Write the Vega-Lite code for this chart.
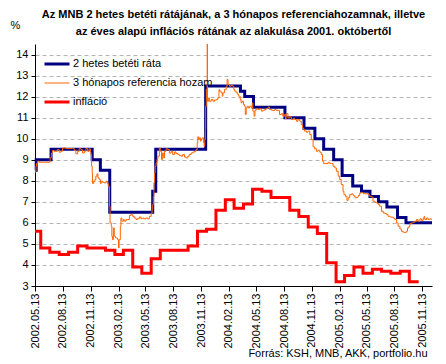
{
 "$schema": "https://vega.github.io/schema/vega-lite/v6.json",
 "width": 397, "height": 242,
 "autosize": {"type": "none"},
 "padding": {"left": 35, "top": 44, "right": 14, "bottom": 78},
 "background": "white",
 "config": {"font": "Liberation Sans", "view": {"stroke": null}},
 "title": {"text": ["Az MNB 2 hetes betéti rátájának, a 3 hónapos referenciahozamnak, illetve", "az éves alapú inflációs rátának az alakulása 2001. októbertől"], "fontSize": 11, "fontWeight": "bold", "anchor": "middle", "frame": "group", "offset": -18, "lineHeight": 17, "color": "black"},
 "data": {"values": [
  {"d":"2002-05-13","s":"2 hetes betéti ráta","v":8.5},
  {"d":"2002-05-17","s":"2 hetes betéti ráta","v":9.0},
  {"d":"2002-07-05","s":"2 hetes betéti ráta","v":9.5},
  {"d":"2002-11-18","s":"2 hetes betéti ráta","v":9.0},
  {"d":"2002-12-15","s":"2 hetes betéti ráta","v":8.5},
  {"d":"2003-01-15","s":"2 hetes betéti ráta","v":6.5},
  {"d":"2003-06-06","s":"2 hetes betéti ráta","v":7.5},
  {"d":"2003-06-16","s":"2 hetes betéti ráta","v":9.5},
  {"d":"2003-11-28","s":"2 hetes betéti ráta","v":12.5},
  {"d":"2004-03-22","s":"2 hetes betéti ráta","v":12.25},
  {"d":"2004-04-05","s":"2 hetes betéti ráta","v":12.0},
  {"d":"2004-05-04","s":"2 hetes betéti ráta","v":11.5},
  {"d":"2004-08-16","s":"2 hetes betéti ráta","v":11.0},
  {"d":"2004-10-18","s":"2 hetes betéti ráta","v":10.5},
  {"d":"2004-11-23","s":"2 hetes betéti ráta","v":10.0},
  {"d":"2004-12-22","s":"2 hetes betéti ráta","v":9.5},
  {"d":"2005-01-24","s":"2 hetes betéti ráta","v":9.0},
  {"d":"2005-02-21","s":"2 hetes betéti ráta","v":8.25},
  {"d":"2005-03-28","s":"2 hetes betéti ráta","v":7.75},
  {"d":"2005-04-26","s":"2 hetes betéti ráta","v":7.5},
  {"d":"2005-05-24","s":"2 hetes betéti ráta","v":7.25},
  {"d":"2005-06-21","s":"2 hetes betéti ráta","v":7.0},
  {"d":"2005-07-19","s":"2 hetes betéti ráta","v":6.75},
  {"d":"2005-08-23","s":"2 hetes betéti ráta","v":6.25},
  {"d":"2005-09-20","s":"2 hetes betéti ráta","v":6.0},
  {"d":"2005-12-15","s":"2 hetes betéti ráta","v":6.0},
  {"d":"2002-05-13","s":"3 hónapos referencia hozam","v":8.4},
  {"d":"2002-05-14","s":"3 hónapos referencia hozam","v":8.45},
  {"d":"2002-05-16","s":"3 hónapos referencia hozam","v":8.69},
  {"d":"2002-05-18","s":"3 hónapos referencia hozam","v":8.82},
  {"d":"2002-05-22","s":"3 hónapos referencia hozam","v":8.93},
  {"d":"2002-05-27","s":"3 hónapos referencia hozam","v":8.88},
  {"d":"2002-06-13","s":"3 hónapos referencia hozam","v":8.88},
  {"d":"2002-06-29","s":"3 hónapos referencia hozam","v":8.88},
  {"d":"2002-07-02","s":"3 hónapos referencia hozam","v":9.09},
  {"d":"2002-07-06","s":"3 hónapos referencia hozam","v":9.32},
  {"d":"2002-07-10","s":"3 hónapos referencia hozam","v":9.44},
  {"d":"2002-07-15","s":"3 hónapos referencia hozam","v":9.40},
  {"d":"2002-07-26","s":"3 hónapos referencia hozam","v":9.48},
  {"d":"2002-08-01","s":"3 hónapos referencia hozam","v":9.36},
  {"d":"2002-08-07","s":"3 hónapos referencia hozam","v":9.40},
  {"d":"2002-08-12","s":"3 hónapos referencia hozam","v":9.56},
  {"d":"2002-08-23","s":"3 hónapos referencia hozam","v":9.53},
  {"d":"2002-09-14","s":"3 hónapos referencia hozam","v":9.53},
  {"d":"2002-09-20","s":"3 hónapos referencia hozam","v":9.44},
  {"d":"2002-09-25","s":"3 hónapos referencia hozam","v":9.28},
  {"d":"2002-10-01","s":"3 hónapos referencia hozam","v":9.40},
  {"d":"2002-10-06","s":"3 hónapos referencia hozam","v":9.53},
  {"d":"2002-10-12","s":"3 hónapos referencia hozam","v":9.48},
  {"d":"2002-10-17","s":"3 hónapos referencia hozam","v":9.32},
  {"d":"2002-10-23","s":"3 hónapos referencia hozam","v":9.40},
  {"d":"2002-10-28","s":"3 hónapos referencia hozam","v":9.53},
  {"d":"2002-11-03","s":"3 hónapos referencia hozam","v":9.40},
  {"d":"2002-11-08","s":"3 hónapos referencia hozam","v":9.52},
  {"d":"2002-11-12","s":"3 hónapos referencia hozam","v":9.36},
  {"d":"2002-11-14","s":"3 hónapos referencia hozam","v":9.25},
  {"d":"2002-11-16","s":"3 hónapos referencia hozam","v":8.69},
  {"d":"2002-11-18","s":"3 hónapos referencia hozam","v":8.37},
  {"d":"2002-11-19","s":"3 hónapos referencia hozam","v":7.87},
  {"d":"2002-11-23","s":"3 hónapos referencia hozam","v":7.98},
  {"d":"2002-11-27","s":"3 hónapos referencia hozam","v":8.06},
  {"d":"2002-11-30","s":"3 hónapos referencia hozam","v":8.22},
  {"d":"2002-12-04","s":"3 hónapos referencia hozam","v":8.33},
  {"d":"2002-12-07","s":"3 hónapos referencia hozam","v":8.14},
  {"d":"2002-12-11","s":"3 hónapos referencia hozam","v":8.06},
  {"d":"2002-12-15","s":"3 hónapos referencia hozam","v":7.87},
  {"d":"2002-12-18","s":"3 hónapos referencia hozam","v":7.98},
  {"d":"2002-12-22","s":"3 hónapos referencia hozam","v":7.93},
  {"d":"2002-12-28","s":"3 hónapos referencia hozam","v":7.90},
  {"d":"2003-01-03","s":"3 hónapos referencia hozam","v":7.98},
  {"d":"2003-01-08","s":"3 hónapos referencia hozam","v":7.87},
  {"d":"2003-01-10","s":"3 hónapos referencia hozam","v":7.74},
  {"d":"2003-01-14","s":"3 hónapos referencia hozam","v":6.79},
  {"d":"2003-01-16","s":"3 hónapos referencia hozam","v":6.00},
  {"d":"2003-01-20","s":"3 hónapos referencia hozam","v":5.84},
  {"d":"2003-01-22","s":"3 hónapos referencia hozam","v":5.36},
  {"d":"2003-01-24","s":"3 hónapos referencia hozam","v":5.20},
  {"d":"2003-01-27","s":"3 hónapos referencia hozam","v":5.76},
  {"d":"2003-01-30","s":"3 hónapos referencia hozam","v":5.36},
  {"d":"2003-02-03","s":"3 hónapos referencia hozam","v":5.28},
  {"d":"2003-02-07","s":"3 hónapos referencia hozam","v":5.28},
  {"d":"2003-02-10","s":"3 hónapos referencia hozam","v":5.20},
  {"d":"2003-02-13","s":"3 hónapos referencia hozam","v":4.81},
  {"d":"2003-02-15","s":"3 hónapos referencia hozam","v":5.20},
  {"d":"2003-02-19","s":"3 hónapos referencia hozam","v":5.84},
  {"d":"2003-02-21","s":"3 hónapos referencia hozam","v":6.23},
  {"d":"2003-02-24","s":"3 hónapos referencia hozam","v":6.08},
  {"d":"2003-03-01","s":"3 hónapos referencia hozam","v":6.16},
  {"d":"2003-03-04","s":"3 hónapos referencia hozam","v":6.08},
  {"d":"2003-03-10","s":"3 hónapos referencia hozam","v":6.16},
  {"d":"2003-03-15","s":"3 hónapos referencia hozam","v":6.16},
  {"d":"2003-03-21","s":"3 hónapos referencia hozam","v":6.35},
  {"d":"2003-03-26","s":"3 hónapos referencia hozam","v":6.39},
  {"d":"2003-04-01","s":"3 hónapos referencia hozam","v":6.31},
  {"d":"2003-04-06","s":"3 hónapos referencia hozam","v":6.23},
  {"d":"2003-04-12","s":"3 hónapos referencia hozam","v":6.16},
  {"d":"2003-04-17","s":"3 hónapos referencia hozam","v":6.20},
  {"d":"2003-04-23","s":"3 hónapos referencia hozam","v":6.28},
  {"d":"2003-04-28","s":"3 hónapos referencia hozam","v":6.20},
  {"d":"2003-05-04","s":"3 hónapos referencia hozam","v":6.23},
  {"d":"2003-05-09","s":"3 hónapos referencia hozam","v":6.19},
  {"d":"2003-05-15","s":"3 hónapos referencia hozam","v":6.23},
  {"d":"2003-05-20","s":"3 hónapos referencia hozam","v":6.19},
  {"d":"2003-05-26","s":"3 hónapos referencia hozam","v":6.31},
  {"d":"2003-06-01","s":"3 hónapos referencia hozam","v":6.47},
  {"d":"2003-06-04","s":"3 hónapos referencia hozam","v":6.63},
  {"d":"2003-06-06","s":"3 hónapos referencia hozam","v":6.87},
  {"d":"2003-06-08","s":"3 hónapos referencia hozam","v":7.26},
  {"d":"2003-06-10","s":"3 hónapos referencia hozam","v":7.90},
  {"d":"2003-06-12","s":"3 hónapos referencia hozam","v":8.37},
  {"d":"2003-06-14","s":"3 hónapos referencia hozam","v":8.69},
  {"d":"2003-06-17","s":"3 hónapos referencia hozam","v":8.85},
  {"d":"2003-06-20","s":"3 hónapos referencia hozam","v":9.01},
  {"d":"2003-06-23","s":"3 hónapos referencia hozam","v":9.17},
  {"d":"2003-06-28","s":"3 hónapos referencia hozam","v":9.56},
  {"d":"2003-07-01","s":"3 hónapos referencia hozam","v":9.40},
  {"d":"2003-07-05","s":"3 hónapos referencia hozam","v":9.01},
  {"d":"2003-07-08","s":"3 hónapos referencia hozam","v":9.32},
  {"d":"2003-07-11","s":"3 hónapos referencia hozam","v":9.09},
  {"d":"2003-07-15","s":"3 hónapos referencia hozam","v":9.40},
  {"d":"2003-07-20","s":"3 hónapos referencia hozam","v":9.52},
  {"d":"2003-07-26","s":"3 hónapos referencia hozam","v":9.48},
  {"d":"2003-07-31","s":"3 hónapos referencia hozam","v":9.32},
  {"d":"2003-08-06","s":"3 hónapos referencia hozam","v":9.40},
  {"d":"2003-08-11","s":"3 hónapos referencia hozam","v":9.25},
  {"d":"2003-08-17","s":"3 hónapos referencia hozam","v":9.37},
  {"d":"2003-08-22","s":"3 hónapos referencia hozam","v":9.29},
  {"d":"2003-08-28","s":"3 hónapos referencia hozam","v":9.25},
  {"d":"2003-09-02","s":"3 hónapos referencia hozam","v":9.20},
  {"d":"2003-09-08","s":"3 hónapos referencia hozam","v":9.17},
  {"d":"2003-09-13","s":"3 hónapos referencia hozam","v":9.25},
  {"d":"2003-09-19","s":"3 hónapos referencia hozam","v":9.13},
  {"d":"2003-09-24","s":"3 hónapos referencia hozam","v":9.09},
  {"d":"2003-09-30","s":"3 hónapos referencia hozam","v":9.17},
  {"d":"2003-10-05","s":"3 hónapos referencia hozam","v":9.25},
  {"d":"2003-10-11","s":"3 hónapos referencia hozam","v":9.32},
  {"d":"2003-10-16","s":"3 hónapos referencia hozam","v":9.36},
  {"d":"2003-10-22","s":"3 hónapos referencia hozam","v":9.40},
  {"d":"2003-10-27","s":"3 hónapos referencia hozam","v":9.48},
  {"d":"2003-10-31","s":"3 hónapos referencia hozam","v":9.80},
  {"d":"2003-11-02","s":"3 hónapos referencia hozam","v":10.09},
  {"d":"2003-11-05","s":"3 hónapos referencia hozam","v":9.96},
  {"d":"2003-11-07","s":"3 hónapos referencia hozam","v":10.04},
  {"d":"2003-11-11","s":"3 hónapos referencia hozam","v":9.88},
  {"d":"2003-11-13","s":"3 hónapos referencia hozam","v":9.96},
  {"d":"2003-11-16","s":"3 hónapos referencia hozam","v":10.04},
  {"d":"2003-11-21","s":"3 hónapos referencia hozam","v":9.80},
  {"d":"2003-11-23","s":"3 hónapos referencia hozam","v":9.64},
  {"d":"2003-11-25","s":"3 hónapos referencia hozam","v":9.96},
  {"d":"2003-11-27","s":"3 hónapos referencia hozam","v":10.43},
  {"d":"2003-11-28","s":"3 hónapos referencia hozam","v":11.54},
  {"d":"2003-11-30","s":"3 hónapos referencia hozam","v":12.34},
  {"d":"2003-12-02","s":"3 hónapos referencia hozam","v":11.86},
  {"d":"2003-12-03","s":"3 hónapos referencia hozam","v":14.5},
  {"d":"2003-12-04","s":"3 hónapos referencia hozam","v":11.78},
  {"d":"2003-12-08","s":"3 hónapos referencia hozam","v":11.94},
  {"d":"2003-12-10","s":"3 hónapos referencia hozam","v":11.78},
  {"d":"2003-12-16","s":"3 hónapos referencia hozam","v":11.86},
  {"d":"2003-12-22","s":"3 hónapos referencia hozam","v":11.78},
  {"d":"2003-12-27","s":"3 hónapos referencia hozam","v":11.83},
  {"d":"2004-01-02","s":"3 hónapos referencia hozam","v":11.86},
  {"d":"2004-01-07","s":"3 hónapos referencia hozam","v":11.94},
  {"d":"2004-01-11","s":"3 hónapos referencia hozam","v":12.34},
  {"d":"2004-01-13","s":"3 hónapos referencia hozam","v":12.26},
  {"d":"2004-01-18","s":"3 hónapos referencia hozam","v":12.18},
  {"d":"2004-01-22","s":"3 hónapos referencia hozam","v":12.02},
  {"d":"2004-01-24","s":"3 hónapos referencia hozam","v":12.18},
  {"d":"2004-01-29","s":"3 hónapos referencia hozam","v":12.34},
  {"d":"2004-02-04","s":"3 hónapos referencia hozam","v":12.49},
  {"d":"2004-02-07","s":"3 hónapos referencia hozam","v":12.81},
  {"d":"2004-02-10","s":"3 hónapos referencia hozam","v":12.57},
  {"d":"2004-02-15","s":"3 hónapos referencia hozam","v":12.49},
  {"d":"2004-02-20","s":"3 hónapos referencia hozam","v":12.53},
  {"d":"2004-02-26","s":"3 hónapos referencia hozam","v":12.49},
  {"d":"2004-02-29","s":"3 hónapos referencia hozam","v":12.34},
  {"d":"2004-03-03","s":"3 hónapos referencia hozam","v":12.26},
  {"d":"2004-03-08","s":"3 hónapos referencia hozam","v":12.18},
  {"d":"2004-03-13","s":"3 hónapos referencia hozam","v":12.10},
  {"d":"2004-03-16","s":"3 hónapos referencia hozam","v":12.02},
  {"d":"2004-03-21","s":"3 hónapos referencia hozam","v":11.86},
  {"d":"2004-03-24","s":"3 hónapos referencia hozam","v":11.70},
  {"d":"2004-03-27","s":"3 hónapos referencia hozam","v":11.78},
  {"d":"2004-04-01","s":"3 hónapos referencia hozam","v":11.62},
  {"d":"2004-04-05","s":"3 hónapos referencia hozam","v":11.54},
  {"d":"2004-04-07","s":"3 hónapos referencia hozam","v":11.15},
  {"d":"2004-04-10","s":"3 hónapos referencia hozam","v":11.46},
  {"d":"2004-04-13","s":"3 hónapos referencia hozam","v":11.54},
  {"d":"2004-04-17","s":"3 hónapos referencia hozam","v":11.46},
  {"d":"2004-04-21","s":"3 hónapos referencia hozam","v":11.54},
  {"d":"2004-04-27","s":"3 hónapos referencia hozam","v":11.46},
  {"d":"2004-04-30","s":"3 hónapos referencia hozam","v":11.70},
  {"d":"2004-05-02","s":"3 hónapos referencia hozam","v":11.31},
  {"d":"2004-05-06","s":"3 hónapos referencia hozam","v":11.07},
  {"d":"2004-05-09","s":"3 hónapos referencia hozam","v":11.35},
  {"d":"2004-05-13","s":"3 hónapos referencia hozam","v":11.42},
  {"d":"2004-05-19","s":"3 hónapos referencia hozam","v":11.39},
  {"d":"2004-05-24","s":"3 hónapos referencia hozam","v":11.42},
  {"d":"2004-05-30","s":"3 hónapos referencia hozam","v":11.31},
  {"d":"2004-06-04","s":"3 hónapos referencia hozam","v":11.35},
  {"d":"2004-06-10","s":"3 hónapos referencia hozam","v":11.39},
  {"d":"2004-06-15","s":"3 hónapos referencia hozam","v":11.43},
  {"d":"2004-06-21","s":"3 hónapos referencia hozam","v":11.50},
  {"d":"2004-06-26","s":"3 hónapos referencia hozam","v":11.39},
  {"d":"2004-07-02","s":"3 hónapos referencia hozam","v":11.35},
  {"d":"2004-07-07","s":"3 hónapos referencia hozam","v":11.34},
  {"d":"2004-07-13","s":"3 hónapos referencia hozam","v":11.39},
  {"d":"2004-07-18","s":"3 hónapos referencia hozam","v":11.35},
  {"d":"2004-07-24","s":"3 hónapos referencia hozam","v":11.34},
  {"d":"2004-07-29","s":"3 hónapos referencia hozam","v":11.15},
  {"d":"2004-08-04","s":"3 hónapos referencia hozam","v":11.19},
  {"d":"2004-08-09","s":"3 hónapos referencia hozam","v":11.07},
  {"d":"2004-08-15","s":"3 hónapos referencia hozam","v":11.15},
  {"d":"2004-08-18","s":"3 hónapos referencia hozam","v":10.94},
  {"d":"2004-08-20","s":"3 hónapos referencia hozam","v":11.19},
  {"d":"2004-08-26","s":"3 hónapos referencia hozam","v":10.99},
  {"d":"2004-09-01","s":"3 hónapos referencia hozam","v":11.04},
  {"d":"2004-09-06","s":"3 hónapos referencia hozam","v":10.91},
  {"d":"2004-09-12","s":"3 hónapos referencia hozam","v":10.97},
  {"d":"2004-09-17","s":"3 hónapos referencia hozam","v":10.91},
  {"d":"2004-09-23","s":"3 hónapos referencia hozam","v":10.83},
  {"d":"2004-09-28","s":"3 hónapos referencia hozam","v":10.91},
  {"d":"2004-10-04","s":"3 hónapos referencia hozam","v":10.83},
  {"d":"2004-10-09","s":"3 hónapos referencia hozam","v":10.67},
  {"d":"2004-10-13","s":"3 hónapos referencia hozam","v":10.51},
  {"d":"2004-10-17","s":"3 hónapos referencia hozam","v":10.43},
  {"d":"2004-10-20","s":"3 hónapos referencia hozam","v":10.36},
  {"d":"2004-10-26","s":"3 hónapos referencia hozam","v":10.31},
  {"d":"2004-10-31","s":"3 hónapos referencia hozam","v":10.36},
  {"d":"2004-11-06","s":"3 hónapos referencia hozam","v":10.20},
  {"d":"2004-11-11","s":"3 hónapos referencia hozam","v":9.96},
  {"d":"2004-11-17","s":"3 hónapos referencia hozam","v":9.61},
  {"d":"2004-11-22","s":"3 hónapos referencia hozam","v":9.52},
  {"d":"2004-11-28","s":"3 hónapos referencia hozam","v":9.40},
  {"d":"2004-12-03","s":"3 hónapos referencia hozam","v":9.45},
  {"d":"2004-12-09","s":"3 hónapos referencia hozam","v":9.36},
  {"d":"2004-12-14","s":"3 hónapos referencia hozam","v":9.25},
  {"d":"2004-12-18","s":"3 hónapos referencia hozam","v":8.93},
  {"d":"2004-12-22","s":"3 hónapos referencia hozam","v":8.82},
  {"d":"2004-12-29","s":"3 hónapos referencia hozam","v":8.82},
  {"d":"2005-01-06","s":"3 hónapos referencia hozam","v":8.88},
  {"d":"2005-01-11","s":"3 hónapos referencia hozam","v":8.82},
  {"d":"2005-01-17","s":"3 hónapos referencia hozam","v":8.82},
  {"d":"2005-01-22","s":"3 hónapos referencia hozam","v":8.69},
  {"d":"2005-01-28","s":"3 hónapos referencia hozam","v":8.61},
  {"d":"2005-02-02","s":"3 hónapos referencia hozam","v":8.45},
  {"d":"2005-02-08","s":"3 hónapos referencia hozam","v":8.22},
  {"d":"2005-02-13","s":"3 hónapos referencia hozam","v":8.06},
  {"d":"2005-02-18","s":"3 hónapos referencia hozam","v":7.82},
  {"d":"2005-02-24","s":"3 hónapos referencia hozam","v":7.50},
  {"d":"2005-02-27","s":"3 hónapos referencia hozam","v":7.34},
  {"d":"2005-03-04","s":"3 hónapos referencia hozam","v":7.26},
  {"d":"2005-03-09","s":"3 hónapos referencia hozam","v":7.07},
  {"d":"2005-03-13","s":"3 hónapos referencia hozam","v":7.19},
  {"d":"2005-03-18","s":"3 hónapos referencia hozam","v":7.34},
  {"d":"2005-03-24","s":"3 hónapos referencia hozam","v":7.38},
  {"d":"2005-03-29","s":"3 hónapos referencia hozam","v":7.31},
  {"d":"2005-04-02","s":"3 hónapos referencia hozam","v":7.26},
  {"d":"2005-04-05","s":"3 hónapos referencia hozam","v":7.19},
  {"d":"2005-04-09","s":"3 hónapos referencia hozam","v":7.22},
  {"d":"2005-04-15","s":"3 hónapos referencia hozam","v":7.30},
  {"d":"2005-04-20","s":"3 hónapos referencia hozam","v":7.42},
  {"d":"2005-04-26","s":"3 hónapos referencia hozam","v":7.45},
  {"d":"2005-05-01","s":"3 hónapos referencia hozam","v":7.39},
  {"d":"2005-05-07","s":"3 hónapos referencia hozam","v":7.38},
  {"d":"2005-05-12","s":"3 hónapos referencia hozam","v":7.39},
  {"d":"2005-05-18","s":"3 hónapos referencia hozam","v":7.34},
  {"d":"2005-05-23","s":"3 hónapos referencia hozam","v":7.26},
  {"d":"2005-05-29","s":"3 hónapos referencia hozam","v":7.23},
  {"d":"2005-06-03","s":"3 hónapos referencia hozam","v":7.03},
  {"d":"2005-06-09","s":"3 hónapos referencia hozam","v":6.98},
  {"d":"2005-06-14","s":"3 hónapos referencia hozam","v":6.95},
  {"d":"2005-06-20","s":"3 hónapos referencia hozam","v":6.87},
  {"d":"2005-06-25","s":"3 hónapos referencia hozam","v":6.79},
  {"d":"2005-07-01","s":"3 hónapos referencia hozam","v":6.55},
  {"d":"2005-07-07","s":"3 hónapos referencia hozam","v":6.47},
  {"d":"2005-07-12","s":"3 hónapos referencia hozam","v":6.44},
  {"d":"2005-07-18","s":"3 hónapos referencia hozam","v":6.39},
  {"d":"2005-07-23","s":"3 hónapos referencia hozam","v":6.31},
  {"d":"2005-07-29","s":"3 hónapos referencia hozam","v":6.28},
  {"d":"2005-08-03","s":"3 hónapos referencia hozam","v":6.27},
  {"d":"2005-08-09","s":"3 hónapos referencia hozam","v":6.23},
  {"d":"2005-08-14","s":"3 hónapos referencia hozam","v":6.16},
  {"d":"2005-08-20","s":"3 hónapos referencia hozam","v":6.00},
  {"d":"2005-08-25","s":"3 hónapos referencia hozam","v":5.84},
  {"d":"2005-08-31","s":"3 hónapos referencia hozam","v":5.71},
  {"d":"2005-09-05","s":"3 hónapos referencia hozam","v":5.60},
  {"d":"2005-09-11","s":"3 hónapos referencia hozam","v":5.55},
  {"d":"2005-09-16","s":"3 hónapos referencia hozam","v":5.55},
  {"d":"2005-09-22","s":"3 hónapos referencia hozam","v":5.60},
  {"d":"2005-09-25","s":"3 hónapos referencia hozam","v":5.76},
  {"d":"2005-09-30","s":"3 hónapos referencia hozam","v":5.84},
  {"d":"2005-10-03","s":"3 hónapos referencia hozam","v":5.97},
  {"d":"2005-10-08","s":"3 hónapos referencia hozam","v":6.00},
  {"d":"2005-10-14","s":"3 hónapos referencia hozam","v":6.03},
  {"d":"2005-10-19","s":"3 hónapos referencia hozam","v":6.08},
  {"d":"2005-10-25","s":"3 hónapos referencia hozam","v":6.16},
  {"d":"2005-10-30","s":"3 hónapos referencia hozam","v":6.08},
  {"d":"2005-11-05","s":"3 hónapos referencia hozam","v":6.19},
  {"d":"2005-11-10","s":"3 hónapos referencia hozam","v":6.12},
  {"d":"2005-11-16","s":"3 hónapos referencia hozam","v":6.23},
  {"d":"2005-11-19","s":"3 hónapos referencia hozam","v":6.31},
  {"d":"2005-11-21","s":"3 hónapos referencia hozam","v":6.16},
  {"d":"2005-11-27","s":"3 hónapos referencia hozam","v":6.23},
  {"d":"2005-12-02","s":"3 hónapos referencia hozam","v":6.16},
  {"d":"2005-12-07","s":"3 hónapos referencia hozam","v":6.19},
  {"d":"2005-12-13","s":"3 hónapos referencia hozam","v":6.16},
  {"d":"2005-12-15","s":"3 hónapos referencia hozam","v":6.16},
  {"d":"2002-05-13","s":"infláció","v":5.6},
  {"d":"2002-06-01","s":"infláció","v":4.8},
  {"d":"2002-07-01","s":"infláció","v":4.6},
  {"d":"2002-08-01","s":"infláció","v":4.5},
  {"d":"2002-09-01","s":"infláció","v":4.6},
  {"d":"2002-10-01","s":"infláció","v":4.9},
  {"d":"2002-11-01","s":"infláció","v":4.8},
  {"d":"2002-12-01","s":"infláció","v":4.8},
  {"d":"2003-01-01","s":"infláció","v":4.7},
  {"d":"2003-02-01","s":"infláció","v":4.5},
  {"d":"2003-03-01","s":"infláció","v":4.7},
  {"d":"2003-04-01","s":"infláció","v":3.9},
  {"d":"2003-05-01","s":"infláció","v":3.6},
  {"d":"2003-06-01","s":"infláció","v":4.3},
  {"d":"2003-07-01","s":"infláció","v":4.7},
  {"d":"2003-08-01","s":"infláció","v":4.7},
  {"d":"2003-09-01","s":"infláció","v":4.7},
  {"d":"2003-10-01","s":"infláció","v":4.9},
  {"d":"2003-11-01","s":"infláció","v":5.6},
  {"d":"2003-12-01","s":"infláció","v":5.7},
  {"d":"2004-01-01","s":"infláció","v":6.6},
  {"d":"2004-02-01","s":"infláció","v":7.1},
  {"d":"2004-03-01","s":"infláció","v":6.7},
  {"d":"2004-04-01","s":"infláció","v":6.9},
  {"d":"2004-05-01","s":"infláció","v":7.6},
  {"d":"2004-06-01","s":"infláció","v":7.5},
  {"d":"2004-07-01","s":"infláció","v":7.2},
  {"d":"2004-08-01","s":"infláció","v":7.2},
  {"d":"2004-09-01","s":"infláció","v":6.6},
  {"d":"2004-10-01","s":"infláció","v":6.3},
  {"d":"2004-11-01","s":"infláció","v":5.8},
  {"d":"2004-12-01","s":"infláció","v":5.5},
  {"d":"2005-01-01","s":"infláció","v":4.1},
  {"d":"2005-02-01","s":"infláció","v":3.2},
  {"d":"2005-03-01","s":"infláció","v":3.5},
  {"d":"2005-04-01","s":"infláció","v":3.9},
  {"d":"2005-05-01","s":"infláció","v":3.6},
  {"d":"2005-06-01","s":"infláció","v":3.8},
  {"d":"2005-07-01","s":"infláció","v":3.7},
  {"d":"2005-08-01","s":"infláció","v":3.6},
  {"d":"2005-09-01","s":"infláció","v":3.7},
  {"d":"2005-10-01","s":"infláció","v":3.2},
  {"d":"2005-11-01","s":"infláció","v":3.2}
 ]},
 "mark": {"type": "line", "interpolate": "step-after"},
 "encoding": {
  "x": {"field": "d", "type": "temporal",
   "scale": {"type": "utc", "domain": [{"year": 2002, "month": 5, "date": 13, "utc": true}, {"year": 2005, "month": 12, "date": 15, "utc": true}]},
   "axis": {"values": [
     {"year": 2002, "month": 5, "date": 13, "utc": true},
     {"year": 2002, "month": 8, "date": 13, "utc": true},
     {"year": 2002, "month": 11, "date": 13, "utc": true},
     {"year": 2003, "month": 2, "date": 13, "utc": true},
     {"year": 2003, "month": 5, "date": 13, "utc": true},
     {"year": 2003, "month": 8, "date": 13, "utc": true},
     {"year": 2003, "month": 11, "date": 13, "utc": true},
     {"year": 2004, "month": 2, "date": 13, "utc": true},
     {"year": 2004, "month": 5, "date": 13, "utc": true},
     {"year": 2004, "month": 8, "date": 13, "utc": true},
     {"year": 2004, "month": 11, "date": 13, "utc": true},
     {"year": 2005, "month": 2, "date": 13, "utc": true},
     {"year": 2005, "month": 5, "date": 13, "utc": true},
     {"year": 2005, "month": 8, "date": 13, "utc": true},
     {"year": 2005, "month": 11, "date": 13, "utc": true}],
    "format": "%Y.%m.%d", "labelAngle": -90, "labelAlign": "right", "labelBaseline": "middle",
    "labelFontSize": 11, "labelColor": "black", "labelPadding": 2, "labelOverlap": false, "labelFlush": false,
    "tickSize": 5, "tickColor": "black", "domainColor": "black", "grid": false,
    "title": "Forrás: KSH, MNB, AKK, portfolio.hu", "titleFontSize": 11, "titleFontWeight": "normal", "titleColor": "black",
    "titleAlign": "right", "titleAnchor": "end", "titleBaseline": "middle", "titleX": 392, "titleY": 67}},
  "y": {"field": "v", "type": "quantitative",
   "scale": {"domain": [3, 14.5], "nice": false, "zero": false},
   "axis": {"values": [3, 4, 5, 6, 7, 8, 9, 10, 11, 12, 13, 14],
    "grid": true, "gridColor": "#b4b4b4", "gridDash": [4, 3], "gridWidth": 1,
    "domainColor": "black", "tickColor": "black", "tickSize": 4,
    "labelFontSize": 11, "labelColor": "black", "labelPadding": 3,
    "title": "%", "titleAngle": 0, "titleX": -20, "titleY": -19, "titleFontSize": 11, "titleFontWeight": "normal",
    "titleAlign": "center", "titleBaseline": "middle", "titleColor": "black"}},
  "color": {"field": "s", "type": "nominal",
   "scale": {"domain": ["2 hetes betéti ráta", "3 hónapos referencia hozam", "infláció"], "range": ["#000080", "#ff6600", "#ff0000"]},
   "legend": {"title": null, "orient": "none", "legendX": 6, "legendY": 4, "symbolType": "stroke", "symbolSize": 625,
    "labelFontSize": 11, "labelColor": "black", "padding": 2, "labelOffset": 2, "rowPadding": -6}},
  "strokeWidth": {"field": "s", "type": "nominal",
   "scale": {"type": "ordinal", "domain": ["2 hetes betéti ráta", "3 hónapos referencia hozam", "infláció"], "range": [3, 1, 3]},
   "legend": {"title": null, "orient": "none", "legendX": 6, "legendY": 4, "symbolType": "stroke", "symbolSize": 625,
    "labelFontSize": 11, "labelColor": "black", "padding": 2, "labelOffset": 2, "rowPadding": -6}}
 }
}
